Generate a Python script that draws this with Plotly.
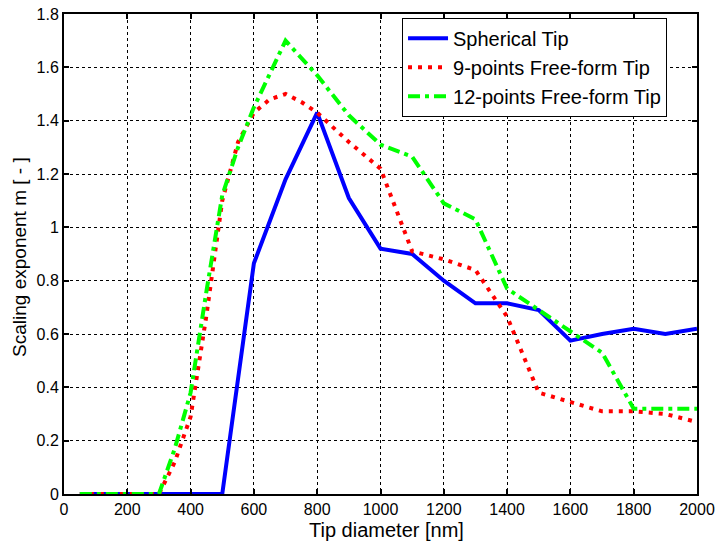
import plotly.graph_objects as go

# Spherical tip
x_sph = [50, 100, 200, 300, 400, 500, 600, 700, 800, 900, 1000, 1100, 1200, 1300, 1400, 1500, 1600, 1700, 1800, 1900, 2000]
y_sph = [0, 0, 0, 0, 0, 0, 0.865, 1.18, 1.43, 1.11, 0.92, 0.90, 0.80, 0.715, 0.715, 0.69, 0.575, 0.60, 0.62, 0.60, 0.62]

# 9-points free-form tip
x_9 = [50, 100, 200, 300, 350, 400, 450, 500, 550, 600, 650, 700, 750, 800, 900, 1000, 1100, 1200, 1300, 1400, 1500, 1600, 1700, 1800, 1900, 2000]
y_9 = [0, 0, 0, 0, 0.12, 0.29, 0.67, 1.10, 1.32, 1.43, 1.48, 1.50, 1.47, 1.43, 1.32, 1.22, 0.91, 0.88, 0.84, 0.665, 0.38, 0.345, 0.31, 0.31, 0.30, 0.27]

# 12-points free-form tip
x_12 = [50, 100, 200, 300, 350, 400, 450, 500, 550, 600, 700, 800, 900, 1000, 1100, 1200, 1300, 1400, 1500, 1600, 1700, 1800, 1900, 2000]
y_12 = [0, 0, 0, 0, 0.17, 0.38, 0.76, 1.12, 1.30, 1.45, 1.70, 1.57, 1.42, 1.31, 1.265, 1.09, 1.03, 0.77, 0.69, 0.61, 0.53, 0.32, 0.32, 0.32]

x_ticks = [0, 200, 400, 600, 800, 1000, 1200, 1400, 1600, 1800, 2000]
y_ticks = [0, 0.2, 0.4, 0.6, 0.8, 1.0, 1.2, 1.4, 1.6, 1.8]
y_tick_labels = ["0", "0.2", "0.4", "0.6", "0.8", "1", "1.2", "1.4", "1.6", "1.8"]

x_title = "Tip diameter [nm]"
y_title = "Scaling exponent m [ - ]"

FONT = "Liberation Sans, Arial, Helvetica, sans-serif"

fig = go.Figure()
fig.add_trace(go.Scatter(x=x_sph, y=y_sph, mode="lines", name="Spherical Tip",
                         line=dict(color="#0000ff", width=4)))
fig.add_trace(go.Scatter(x=x_9, y=y_9, mode="lines", name="9-points Free-form Tip",
                         line=dict(color="#ff0000", width=4, dash="4px,6px")))
fig.add_trace(go.Scatter(x=x_12, y=y_12, mode="lines", name="12-points Free-form Tip",
                         line=dict(color="#00ff00", width=4, dash="12px,5px,4px,5px")))

axis_common = dict(
    showline=True, linecolor="black", linewidth=2, mirror="allticks",
    ticks="inside", ticklen=5, tickwidth=1.5, tickcolor="black",
    showgrid=True, gridcolor="black", gridwidth=1, griddash="dot",
    zeroline=False, automargin=False,
    tickfont=dict(size=16, color="black", family=FONT),
)

fig.update_xaxes(range=[0, 2000], tickvals=x_ticks, **axis_common)
fig.update_yaxes(range=[0, 1.8], tickvals=y_ticks, ticktext=y_tick_labels, **axis_common)

fig.add_annotation(text=x_title, xref="paper", yref="paper", x=0.509, y=-0.074,
                   xanchor="center", yanchor="middle", showarrow=False,
                   font=dict(size=20, color="black", family=FONT))
fig.add_annotation(text=y_title, xref="paper", yref="paper", x=-0.0695, y=0.494,
                   xanchor="center", yanchor="middle", showarrow=False, textangle=-90,
                   font=dict(size=19, color="black", family=FONT))

fig.update_layout(
    width=718, height=558,
    margin=dict(l=64, r=21, t=14, b=64),
    paper_bgcolor="white", plot_bgcolor="white",
    font=dict(family=FONT, color="black"),
    showlegend=True,
    legend=dict(x=0.534, y=0.992, xanchor="left", yanchor="top",
                bgcolor="white", bordercolor="black", borderwidth=1,
                font=dict(size=20, color="black", family=FONT),
                tracegroupgap=0, itemwidth=40),
)

fig.write_html("out.html", config={"displayModeBar": False},
               post_script="document.body.style.margin='0';document.body.style.padding='0';")
